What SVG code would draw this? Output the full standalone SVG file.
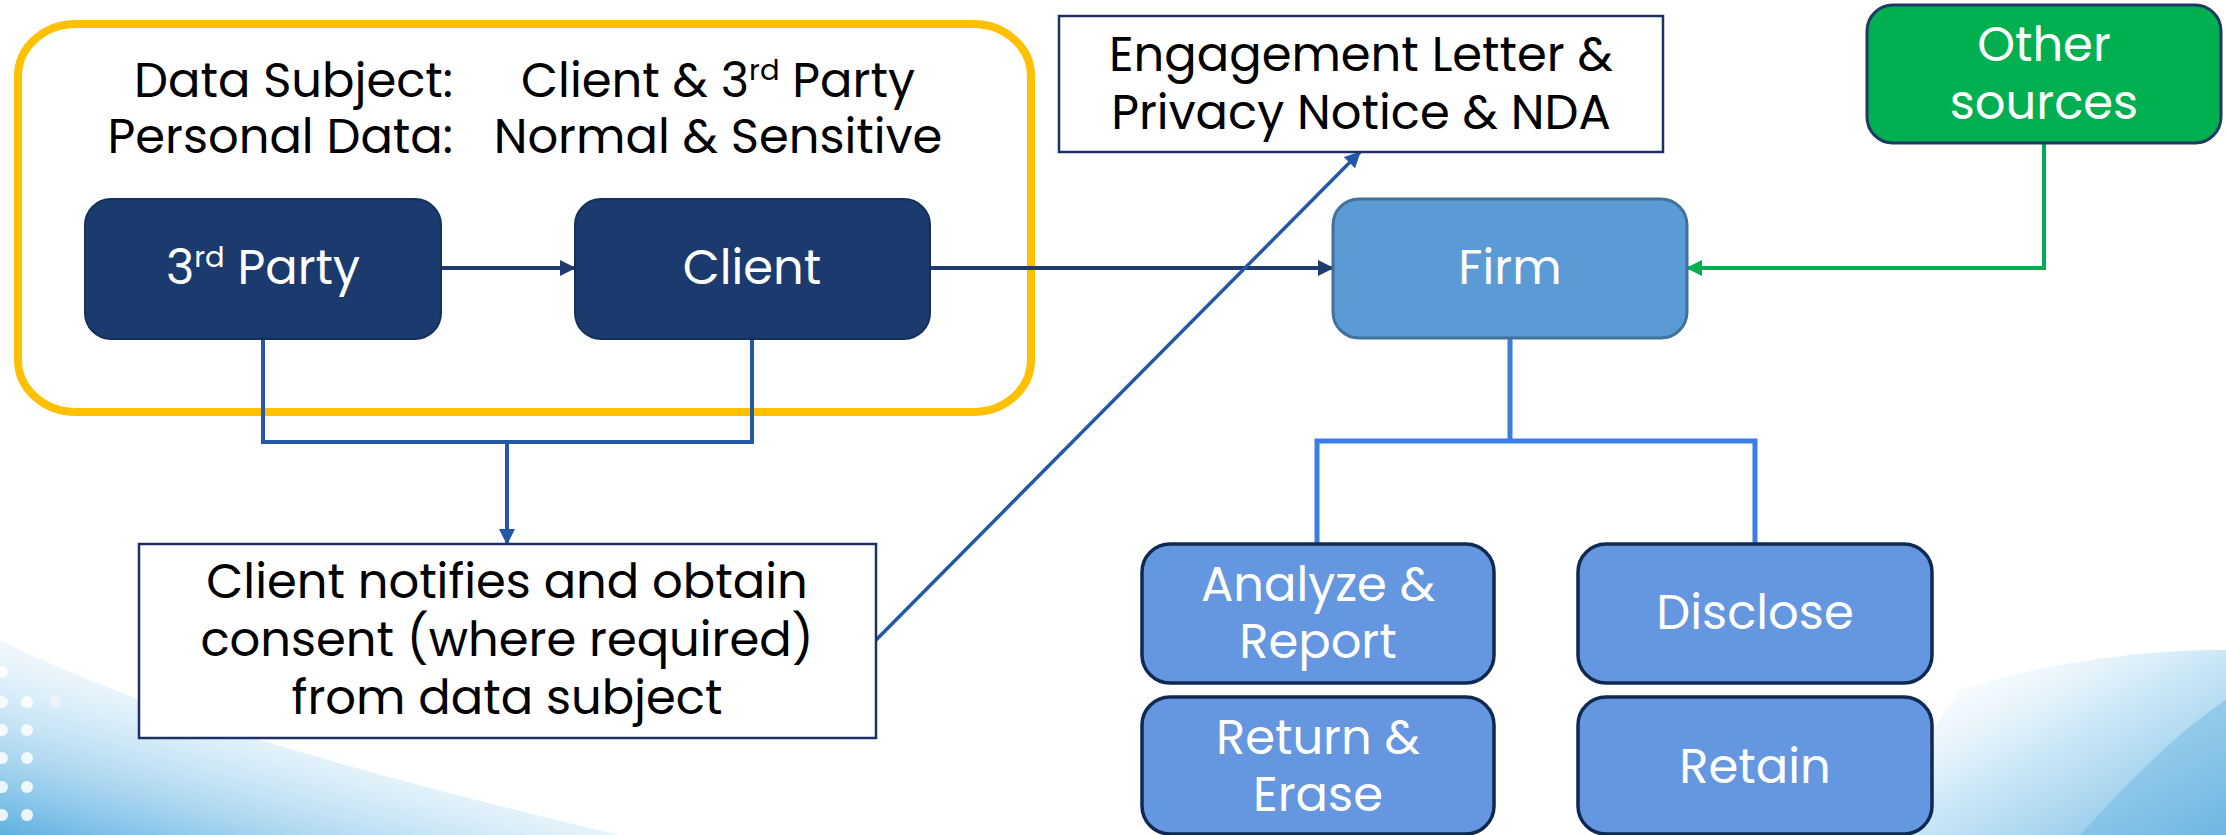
<svg xmlns="http://www.w3.org/2000/svg" width="2226" height="835" viewBox="0 0 2226 835">
<style>
  text { font-family: "Poppins", "Open Sans", "Noto Sans", "Liberation Sans", sans-serif; font-size: 48px; }
  .dk { fill: #000000; }
  .wt { fill: #ffffff; }
  .navy { fill: #1B3A6E; stroke: #142F5C; stroke-width: 2; }
  .firm { fill: #5B9BD5; stroke: #41719C; stroke-width: 3; }
  .act { fill: #6596E0; stroke: #0E2A52; stroke-width: 3.5; }
  .white { fill: #ffffff; stroke: #1F3068; stroke-width: 2.5; }
  .conn { fill: none; }
  .sup { font-size: 29px; }
</style>
<defs>
  <marker id="arrNavy" markerUnits="userSpaceOnUse" markerWidth="16" markerHeight="16" refX="15" refY="8" orient="auto">
    <path d="M0,0 L16,8 L0,16 Z" fill="#1F3B70"/>
  </marker>
  <marker id="arrBlue" markerUnits="userSpaceOnUse" markerWidth="16" markerHeight="16" refX="15" refY="8" orient="auto">
    <path d="M0,0 L16,8 L0,16 Z" fill="#2358A6"/>
  </marker>
  <marker id="arrGreen" markerUnits="userSpaceOnUse" markerWidth="16" markerHeight="16" refX="15" refY="8" orient="auto">
    <path d="M0,0 L16,8 L0,16 Z" fill="#00B050"/>
  </marker>
  <linearGradient id="bgL" x1="0" y1="1" x2="0.7" y2="0.2">
    <stop offset="0" stop-color="#5DB0E2" stop-opacity="1"/>
    <stop offset="0.45" stop-color="#A9D6F0" stop-opacity="0.6"/>
    <stop offset="1" stop-color="#ffffff" stop-opacity="0"/>
  </linearGradient>
  <linearGradient id="bgR" x1="1" y1="1" x2="0" y2="0.1">
    <stop offset="0" stop-color="#6DB8E3" stop-opacity="1"/>
    <stop offset="0.5" stop-color="#B5DDF3" stop-opacity="0.7"/>
    <stop offset="1" stop-color="#ffffff" stop-opacity="0"/>
  </linearGradient>
</defs>
<rect x="0" y="0" width="2226" height="835" fill="#ffffff"/>
<g id="background">
  <path d="M0,640 C120,700 300,760 620,835 L0,835 Z" fill="url(#bgL)"/>
  <path d="M1860,835 L1960,690 C2050,660 2150,650 2226,650 L2226,835 Z" fill="url(#bgR)"/>
  <path d="M2080,835 C2130,780 2180,730 2226,700 L2226,835 Z" fill="#6DB5E0" opacity="0.45"/>
  <g fill="#ffffff" opacity="0.85">
    <circle cx="2" cy="672" r="6"/><circle cx="27" cy="702" r="6"/><circle cx="2" cy="730" r="6"/>
    <circle cx="27" cy="730" r="6"/><circle cx="2" cy="758" r="6"/><circle cx="27" cy="758" r="6"/>
    <circle cx="2" cy="787" r="6"/><circle cx="27" cy="787" r="6"/><circle cx="2" cy="815" r="6"/>
    <circle cx="27" cy="815" r="6"/><circle cx="2" cy="702" r="6"/><circle cx="55" cy="702" r="6" opacity="0.5"/>
  </g>
</g>
<g id="data-group">
  <rect x="18" y="24" width="1013" height="388" rx="58" ry="52" fill="none" stroke="#FFC000" stroke-width="8"/>
  <text class="dk" x="453" y="97" text-anchor="end">Data Subject:</text>
  <text class="dk" x="718" y="97" text-anchor="middle">Client &amp; 3<tspan class="sup" dy="-17">rd</tspan><tspan dy="17"> Party</tspan></text>
  <text class="dk" x="453" y="153" text-anchor="end">Personal Data:</text>
  <text class="dk" x="718" y="153" text-anchor="middle">Normal &amp; Sensitive</text>
</g>
<g id="connectors">
  <path class="conn" d="M441,268 H575" stroke="#1F3B70" stroke-width="4" marker-end="url(#arrNavy)"/>
  <path class="conn" d="M930,268 H1333" stroke="#1F3B70" stroke-width="4" marker-end="url(#arrNavy)"/>
  <path class="conn" d="M2044,143 V268 H1687" stroke="#00B050" stroke-width="4" marker-end="url(#arrGreen)"/>
  <path class="conn" d="M263,339 V442 H752 V339" stroke="#2758A8" stroke-width="4"/>
  <path class="conn" d="M507,442 V544" stroke="#2758A8" stroke-width="4" marker-end="url(#arrBlue)"/>
  <path class="conn" d="M876,640 L1360,152" stroke="#2358A6" stroke-width="3.5" marker-end="url(#arrBlue)"/>
  <path class="conn" d="M1510,338 V441" stroke="#3B7DE4" stroke-width="5"/>
  <path class="conn" d="M1317,544 V441 H1755 V544" stroke="#3B7DE4" stroke-width="5"/>
</g>
<g id="third-party">
  <rect class="navy" x="85" y="199" width="356" height="140" rx="26"/>
  <text class="wt" x="263" y="284" text-anchor="middle">3<tspan class="sup" dy="-17">rd</tspan><tspan dy="17"> Party</tspan></text>
</g>
<g id="client">
  <rect class="navy" x="575" y="199" width="355" height="140" rx="26"/>
  <text class="wt" x="752" y="284" text-anchor="middle">Client</text>
</g>
<g id="firm">
  <rect class="firm" x="1333" y="199" width="354" height="139" rx="26"/>
  <text class="wt" x="1510" y="284" text-anchor="middle">Firm</text>
</g>
<g id="engagement">
  <rect class="white" x="1059" y="16" width="604" height="136"/>
  <text class="dk" x="1361" y="71" text-anchor="middle">Engagement Letter &amp;</text>
  <text class="dk" x="1361" y="129" text-anchor="middle">Privacy Notice &amp; NDA</text>
</g>
<g id="other-sources">
  <rect x="1867" y="5" width="354" height="138" rx="26" fill="#00B050" stroke="#1F3864" stroke-width="3"/>
  <text class="wt" x="2044" y="61" text-anchor="middle">Other</text>
  <text class="wt" x="2044" y="119" text-anchor="middle">sources</text>
</g>
<g id="notify">
  <rect class="white" x="139" y="544" width="737" height="194"/>
  <text class="dk" x="507" y="598" text-anchor="middle">Client notifies and obtain</text>
  <text class="dk" x="507" y="656" text-anchor="middle">consent (where required)</text>
  <text class="dk" x="507" y="714" text-anchor="middle">from data subject</text>
</g>
<g id="analyze">
  <rect class="act" x="1142" y="544" width="352" height="139" rx="28"/>
  <text class="wt" x="1318" y="601" text-anchor="middle">Analyze &amp;</text>
  <text class="wt" x="1318" y="658" text-anchor="middle">Report</text>
</g>
<g id="disclose">
  <rect class="act" x="1578" y="544" width="354" height="139" rx="28"/>
  <text class="wt" x="1755" y="629" text-anchor="middle">Disclose</text>
</g>
<g id="return">
  <rect class="act" x="1142" y="697" width="352" height="137" rx="28"/>
  <text class="wt" x="1318" y="754" text-anchor="middle">Return &amp;</text>
  <text class="wt" x="1318" y="811" text-anchor="middle">Erase</text>
</g>
<g id="retain">
  <rect class="act" x="1578" y="697" width="354" height="137" rx="28"/>
  <text class="wt" x="1755" y="783" text-anchor="middle">Retain</text>
</g>
</svg>
